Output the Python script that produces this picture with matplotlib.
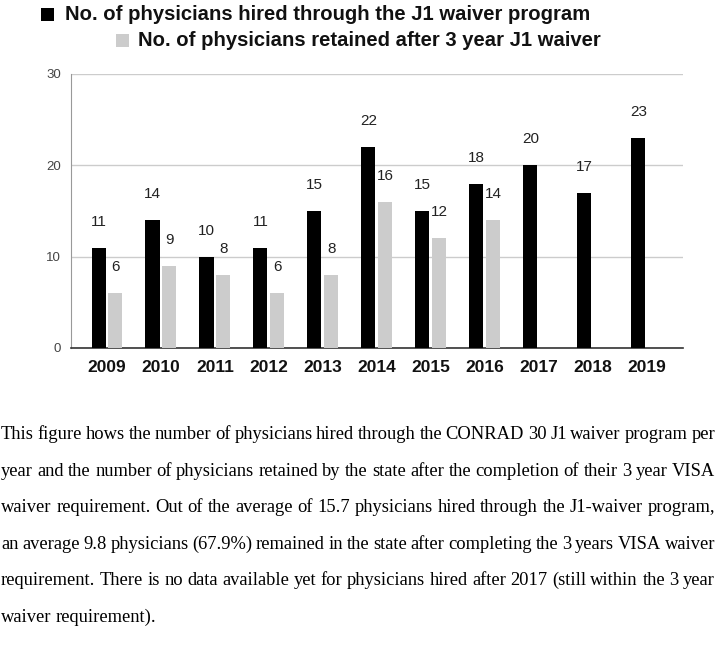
import numpy as np
import matplotlib
matplotlib.use("Agg")
import matplotlib.pyplot as plt
from matplotlib.patches import Rectangle

years = ["2009", "2010", "2011", "2012", "2013", "2014", "2015", "2016", "2017", "2018", "2019"]
hired = [11, 14, 10, 11, 15, 22, 15, 18, 20, 17, 23]
retained = [6, 9, 8, 6, 8, 16, 12, 14, np.nan, np.nan, np.nan]
legend_labels = ["No. of physicians hired through the J1 waiver program",
                 "No. of physicians retained after 3 year J1 waiver"]
caption_lines = [
    "This figure hows the number of physicians hired through the CONRAD 30 J1 waiver program per",
    "year and the number of physicians retained by the state after the completion of their 3 year VISA",
    "waiver requirement. Out of the average of 15.7 physicians hired through the J1-waiver program,",
    "an average 9.8 physicians (67.9%) remained in the state after completing the 3 years VISA waiver",
    "requirement. There is no data available yet for physicians hired after 2017 (still within the 3 year",
    "waiver requirement).",
]

W, H = 717, 653
fig = plt.figure(figsize=(W / 100, H / 100), dpi=100)


def fx(px):
    return px / W


def fy(py):
    return 1 - py / H


ax = fig.add_axes([fx(71), fy(348), fx(683) - fx(71), fy(74) - fy(348)])

x = np.arange(len(years))
bw = 0.26
off = 0.157
ax.bar(x - off, hired, bw, color="#000000", zorder=3)
ax.bar(x + off, retained, bw, color="#cccccc", zorder=3)

for i in range(len(years)):
    ax.annotate(str(hired[i]), (x[i] - off, hired[i]), xytext=(0, 26), textcoords="offset pixels",
                ha="center", va="center", fontsize=11, color="#222222", family="Liberation Sans")
    if not np.isnan(retained[i]):
        ax.annotate(str(int(retained[i])), (x[i] + off, retained[i]), xytext=(0, 26),
                    textcoords="offset pixels", ha="center", va="center", fontsize=11,
                    color="#222222", family="Liberation Sans")

ax.set_xlim(-0.667, 10.67)
ax.set_ylim(0, 30)
ax.set_yticks([0, 10, 20, 30])
ax.set_xticks(x)
ax.set_xticklabels(years, fontsize=12.5, fontweight="bold", family="Liberation Sans", color="#111111")
ax.tick_params(axis="x", length=0, pad=9)
ax.tick_params(axis="y", length=0, pad=7, labelsize=9.5, labelcolor="#444444")
for lab in ax.get_yticklabels():
    lab.set_family("Liberation Sans")
ax.grid(axis="y", color="#cccccc", linewidth=1, zorder=0)
for s in ["top", "right"]:
    ax.spines[s].set_visible(False)
ax.spines["left"].set_color("#999999")
ax.spines["bottom"].set_color("#333333")
ax.spines["bottom"].set_linewidth(1.2)

# legend drawn by hand (two staggered rows)
fig.patches.append(Rectangle((fx(41), fy(21)), fx(13), 13 / H, transform=fig.transFigure,
                             facecolor="#000000", edgecolor="none"))
fig.text(fx(65), fy(15), legend_labels[0], fontsize=14.6, fontweight="bold", family="Liberation Sans",
         color="#111111", va="center")
fig.patches.append(Rectangle((fx(116), fy(47)), fx(13), 13 / H, transform=fig.transFigure,
                             facecolor="#cccccc", edgecolor="none"))
fig.text(fx(138), fy(41), legend_labels[1], fontsize=14.6, fontweight="bold", family="Liberation Sans",
         color="#111111", va="center")

# caption, justified
renderer = fig.canvas.get_renderer()
left_px, right_px = 1, 715
for li, line in enumerate(caption_lines):
    base = 439 + 36.6 * li
    words = line.split(" ")
    texts = [fig.text(0, fy(base), w, fontsize=13.3, family="Liberation Serif", color="#000000",
                      va="baseline") for w in words]
    widths = [t.get_window_extent(renderer).width for t in texts]
    if li < len(caption_lines) - 1 and len(words) > 1:
        gap = (right_px - left_px - sum(widths)) / (len(words) - 1)
    else:
        gap = 4.2
    pos = left_px
    for t, w in zip(texts, widths):
        t.set_x(fx(pos))
        pos += w + gap

fig.savefig("out.png", dpi=100)
